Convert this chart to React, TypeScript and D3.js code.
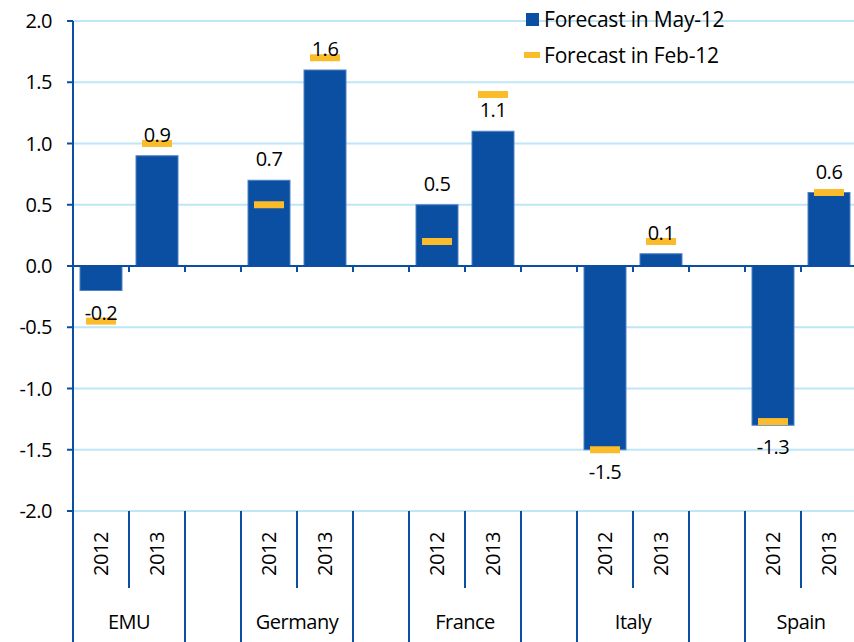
import React, { useRef, useEffect } from 'react';
import { select, scaleLinear, scaleBand, format } from 'd3';

const countries = ["EMU", "Germany", "France", "Italy", "Spain"];
const years = ["2012", "2013"];
// Forecast in May-12, per country [2012, 2013]
const may12 = [[-0.2, 0.9], [0.7, 1.6], [0.5, 1.1], [-1.5, 0.1], [-1.3, 0.6]];
// Forecast in Feb-12, per country [2012, 2013]
const feb12 = [[-0.45, 1.0], [0.5, 1.7], [0.2, 1.4], [-1.5, 0.2], [-1.27, 0.6]];
const yTicks = [-2, -1.5, -1, -0.5, 0, 0.5, 1, 1.5, 2];
const legendLabels = ["Forecast in May-12", "Forecast in Feb-12"];

const BLUE = "#0b4fa3";
const YELLOW = "#fbbc2c";
const GRID = "#bfe6f7";
const FONT = "'Open Sans', sans-serif";

function App() {
    const ref = useRef(null);

    useEffect(() => {
        const width = 854;
        const height = 642;
        const left = 73;
        const svg = select(ref.current);
        svg.selectAll("*").remove();

        // slots: each country has two year slots, then an empty slot
        const slots = [];
        countries.forEach((c, i) => {
            years.forEach(yr => slots.push(c + "|" + yr));
            if (i < countries.length - 1) slots.push("gap" + i);
        });
        const x = scaleBand().domain(slots).range([left, left + 56 * slots.length]);
        const y = scaleLinear().domain([-2, 2]).range([511, 21]);
        const bw = x.bandwidth();
        const f1 = format(".1f");
        const fmt = d => f1(d).replace("\u2212", "-");

        const rows = [];
        countries.forEach((c, i) => years.forEach((yr, j) => {
            rows.push({ key: c + "|" + yr, year: yr, may: may12[i][j], feb: feb12[i][j] });
        }));

        const txt = sel => sel.style("font-family", FONT).style("font-size", "20px")
            .style("letter-spacing", "-0.5px").attr("fill", "#000");

        // gridlines
        svg.append("g").selectAll("line").data(yTicks).enter().append("line")
            .attr("x1", left).attr("x2", width)
            .attr("y1", d => y(d)).attr("y2", d => y(d))
            .attr("stroke", GRID).attr("stroke-width", 2);

        // y axis ticks + labels
        const ya = svg.append("g");
        ya.selectAll("line").data(yTicks).enter().append("line")
            .attr("x1", left - 6).attr("x2", left)
            .attr("y1", d => y(d)).attr("y2", d => y(d))
            .attr("stroke", BLUE).attr("stroke-width", 2);
        ya.selectAll("text").data(yTicks).enter().append("text")
            .attr("x", 52).attr("y", d => y(d)).attr("dy", "0.35em")
            .attr("text-anchor", "end")
            .call(txt)
            .text(d => fmt(d));

        // bars
        svg.append("g").selectAll("rect").data(rows).enter().append("rect")
            .attr("x", d => x(d.key) + bw * 0.125)
            .attr("width", bw * 0.75)
            .attr("y", d => y(Math.max(0, d.may)))
            .attr("height", d => Math.abs(y(d.may) - y(0)))
            .attr("fill", BLUE).attr("stroke", "#4f82c6").attr("stroke-width", 1);

        // zero line with ticks
        svg.append("line").attr("x1", left).attr("x2", width)
            .attr("y1", y(0)).attr("y2", y(0)).attr("stroke", BLUE).attr("stroke-width", 2);
        svg.append("g").selectAll("line").data(slots.slice(1)).enter().append("line")
            .attr("x1", d => x(d)).attr("x2", d => x(d))
            .attr("y1", y(0)).attr("y2", y(0) + 6)
            .attr("stroke", BLUE).attr("stroke-width", 2);

        // Feb-12 markers
        svg.append("g").selectAll("rect").data(rows).enter().append("rect")
            .attr("x", d => x(d.key) + bw / 2 - 15).attr("width", 30)
            .attr("y", d => y(d.feb) - 3.5).attr("height", 7)
            .attr("fill", YELLOW);

        // value labels
        svg.append("g").selectAll("text").data(rows).enter().append("text")
            .attr("x", d => x(d.key) + bw / 2)
            .attr("y", d => d.may >= 0 ? y(d.may) - 14 : y(d.may) + 29)
            .attr("text-anchor", "middle")
            .call(txt)
            .text(d => fmt(d.may));

        // y axis line
        svg.append("line").attr("x1", left).attr("x2", left)
            .attr("y1", y(2)).attr("y2", height)
            .attr("stroke", BLUE).attr("stroke-width", 2);

        // category axis separators
        const sep = svg.append("g");
        slots.forEach((s, i) => {
            if (i === 0) return;
            const isYearSep = s.endsWith("|2013");
            sep.append("line")
                .attr("x1", x(s)).attr("x2", x(s))
                .attr("y1", y(-2)).attr("y2", isYearSep ? 588 : height)
                .attr("stroke", BLUE).attr("stroke-width", 2);
        });

        // year labels
        svg.append("g").selectAll("text").data(rows).enter().append("text")
            .attr("transform", d => `translate(${x(d.key) + bw / 2},554) rotate(-90)`)
            .attr("dy", "0.35em").attr("text-anchor", "middle")
            .call(txt)
            .text(d => d.year);

        // country labels
        svg.append("g").selectAll("text").data(countries).enter().append("text")
            .attr("x", d => x(d + "|2013"))
            .attr("y", 622).attr("dy", "0.35em").attr("text-anchor", "middle")
            .call(txt)
            .text(d => d);

        // legend
        const lg = svg.append("g");
        lg.append("rect").attr("x", 526).attr("y", 13).attr("width", 13).attr("height", 13).attr("fill", BLUE);
        lg.append("rect").attr("x", 524).attr("y", 52).attr("width", 16).attr("height", 6).attr("fill", YELLOW);
        lg.selectAll("text").data(legendLabels).enter().append("text")
            .attr("x", 544).attr("y", (d, i) => 20 + i * 36).attr("dy", "0.35em")
            .call(txt)
            .style("font-size", "21px").style("letter-spacing", "-0.2px")
            .text(d => d);
    }, []);

    return (
        <div style={{ position: "absolute", left: 0, top: 0 }}>
            <svg ref={ref} width={854} height={642} style={{ display: "block", background: "#fff" }} />
        </div>
    );
}

export default App;
